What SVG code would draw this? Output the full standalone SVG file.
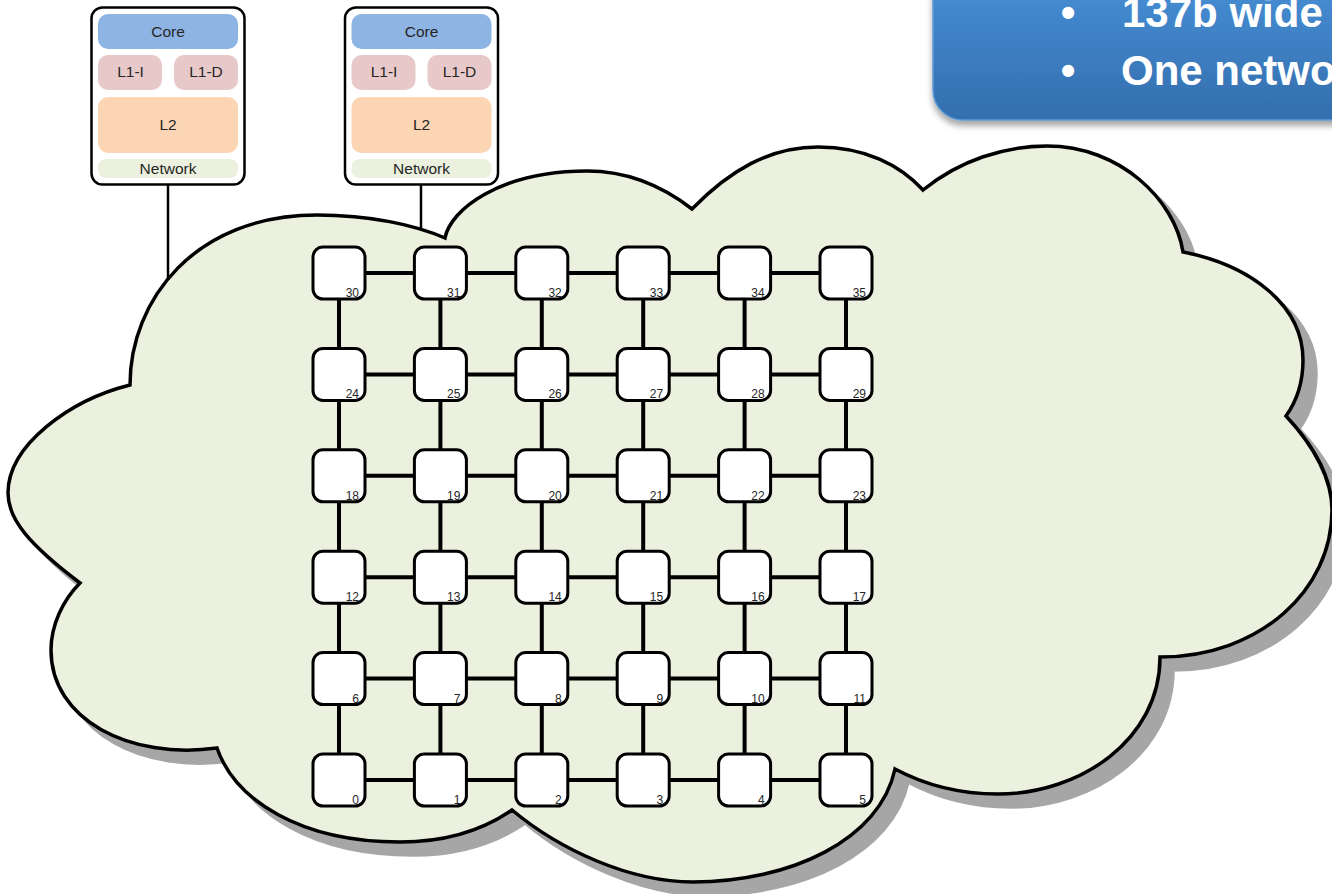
<svg xmlns="http://www.w3.org/2000/svg" xmlns:xlink="http://www.w3.org/1999/xlink" width="1332" height="894" viewBox="0 0 1332 894">
<style>
.lbl{font-family:"Liberation Sans",Arial,sans-serif;font-size:15.5px;fill:#262626;text-anchor:middle}
.num{font-family:"Liberation Sans",Arial,sans-serif;font-size:12px;fill:#262626;text-anchor:end}
.node rect{fill:#ffffff;stroke:#000;stroke-width:3}
.link{stroke:#000;stroke-width:4;fill:none}
.wire{stroke:#000;stroke-width:2.5;fill:none}
.outer{fill:#fff;stroke:#000;stroke-width:2.5}
.callout{font-family:"Liberation Sans",Arial,sans-serif;font-weight:bold;font-size:42px;fill:#fff}
</style>
<defs>
<linearGradient id="blue" x1="0" y1="0" x2="0" y2="1">
<stop offset="0" stop-color="#4a93db"/>
<stop offset="1" stop-color="#336ead"/>
</linearGradient>
<filter id="sh" x="-10%" y="-10%" width="130%" height="140%">
<feDropShadow dx="0" dy="5" stdDeviation="3" flood-color="#000" flood-opacity="0.35"/>
</filter>
<path id="cloudPath" d="M 130,385 C 130,300 195,215 317,215 C 370,215 415,225 445,238 C 450,210 500,171 587,171 C 630,171 665,188 692,209 C 730,170 770,147 818,147 C 865,147 900,165 923,190 C 960,160 1005,146 1047,146 C 1120,146 1175,200 1183,252 C 1250,265 1303,305 1303,360 C 1303,385 1296,402 1286,416 C 1315,447 1332,480 1332,510 C 1332,590 1260,657 1160,657 C 1160,740 1080,794 998,794 C 960,794 925,785 895,769 C 880,840 790,882 693,882 C 630,882 560,850 512,810 C 480,832 440,842 400,842 C 300,842 235,800 217,748 C 130,760 51,720 51,650 C 51,625 63,600 80,583 C 30,545 8,520 8,493 C 8,445 70,400 130,385 Z"/>
</defs>

<!-- callout -->
<g id="callout">
<rect x="933" y="-40" width="460" height="160" rx="30" fill="url(#blue)" stroke="#5c9ad8" stroke-width="1.5" filter="url(#sh)"/>
<text class="callout" x="1068" y="27" text-anchor="middle">•</text>
<text class="callout" x="1122" y="27">137b wide</text>
<text class="callout" x="1068" y="85" text-anchor="middle">•</text>
<text class="callout" x="1121" y="85">One netwo</text>
</g>

<!-- wires from tiles to cloud -->
<g id="wires">
<line class="wire" x1="168" y1="185" x2="168" y2="279"/>
<line class="wire" x1="421" y1="185" x2="421" y2="232"/>
</g>

<!-- cloud -->
<g id="cloud">
<use xlink:href="#cloudPath" transform="translate(13,13)" fill="#a6a6a6" stroke="#a6a6a6" stroke-width="3.5"/>
<use xlink:href="#cloudPath" fill="#ebf1de" stroke="#000" stroke-width="3.5" stroke-linejoin="miter"/>
</g>

<!-- tile 1 -->
<g id="tile1">
<rect class="outer" x="91.5" y="7.5" width="153" height="177" rx="11"/>
<rect x="98" y="14" width="140" height="35" rx="10" fill="#8eb4e3"/>
<text class="lbl" x="168" y="37">Core</text>
<rect x="98" y="55" width="64" height="35" rx="10" fill="#e8c9c9"/>
<text class="lbl" x="130.5" y="77">L1-I</text>
<rect x="174" y="55" width="64" height="35" rx="10" fill="#e8c9c9"/>
<text class="lbl" x="206" y="77">L1-D</text>
<rect x="98" y="97" width="140" height="56" rx="10" fill="#fcd5b5"/>
<text class="lbl" x="168" y="130">L2</text>
<rect x="98" y="159" width="140" height="19" rx="8" fill="#ebf1de"/>
<text class="lbl" x="168" y="174">Network</text>
</g>

<!-- tile 2 -->
<g id="tile2" transform="translate(253.5,0)">
<rect class="outer" x="91.5" y="7.5" width="153" height="177" rx="11"/>
<rect x="98" y="14" width="140" height="35" rx="10" fill="#8eb4e3"/>
<text class="lbl" x="168" y="37">Core</text>
<rect x="98" y="55" width="64" height="35" rx="10" fill="#e8c9c9"/>
<text class="lbl" x="130.5" y="77">L1-I</text>
<rect x="174" y="55" width="64" height="35" rx="10" fill="#e8c9c9"/>
<text class="lbl" x="206" y="77">L1-D</text>
<rect x="98" y="97" width="140" height="56" rx="10" fill="#fcd5b5"/>
<text class="lbl" x="168" y="130">L2</text>
<rect x="98" y="159" width="140" height="19" rx="8" fill="#ebf1de"/>
<text class="lbl" x="168" y="174">Network</text>
</g>

<!-- mesh connectors -->
<g id="connectors">
<path class="link" d="M365,273H414.4M466.4,273H515.8M567.8,273H617.2M669.2,273H718.6M770.6,273H820
M365,374.4H414.4M466.4,374.4H515.8M567.8,374.4H617.2M669.2,374.4H718.6M770.6,374.4H820
M365,475.8H414.4M466.4,475.8H515.8M567.8,475.8H617.2M669.2,475.8H718.6M770.6,475.8H820
M365,577.2H414.4M466.4,577.2H515.8M567.8,577.2H617.2M669.2,577.2H718.6M770.6,577.2H820
M365,678.6H414.4M466.4,678.6H515.8M567.8,678.6H617.2M669.2,678.6H718.6M770.6,678.6H820
M365,780H414.4M466.4,780H515.8M567.8,780H617.2M669.2,780H718.6M770.6,780H820
M339,299V348.4M339,400.4V449.8M339,501.8V551.2M339,603.2V652.6M339,704.6V754
M440.4,299V348.4M440.4,400.4V449.8M440.4,501.8V551.2M440.4,603.2V652.6M440.4,704.6V754
M541.8,299V348.4M541.8,400.4V449.8M541.8,501.8V551.2M541.8,603.2V652.6M541.8,704.6V754
M643.2,299V348.4M643.2,400.4V449.8M643.2,501.8V551.2M643.2,603.2V652.6M643.2,704.6V754
M744.6,299V348.4M744.6,400.4V449.8M744.6,501.8V551.2M744.6,603.2V652.6M744.6,704.6V754
M846,299V348.4M846,400.4V449.8M846,501.8V551.2M846,603.2V652.6M846,704.6V754"/>
</g>

<!-- mesh nodes -->
<g id="n0" class="node"><rect x="313" y="754" width="52" height="52" rx="10"/><text class="num" x="359" y="804">0</text></g>
<g id="n1" class="node"><rect x="414.4" y="754" width="52" height="52" rx="10"/><text class="num" x="460.4" y="804">1</text></g>
<g id="n2" class="node"><rect x="515.8" y="754" width="52" height="52" rx="10"/><text class="num" x="561.8" y="804">2</text></g>
<g id="n3" class="node"><rect x="617.2" y="754" width="52" height="52" rx="10"/><text class="num" x="663.2" y="804">3</text></g>
<g id="n4" class="node"><rect x="718.6" y="754" width="52" height="52" rx="10"/><text class="num" x="764.6" y="804">4</text></g>
<g id="n5" class="node"><rect x="820" y="754" width="52" height="52" rx="10"/><text class="num" x="866" y="804">5</text></g>

<g id="n6" class="node"><rect x="313" y="652.6" width="52" height="52" rx="10"/><text class="num" x="359" y="702.6">6</text></g>
<g id="n7" class="node"><rect x="414.4" y="652.6" width="52" height="52" rx="10"/><text class="num" x="460.4" y="702.6">7</text></g>
<g id="n8" class="node"><rect x="515.8" y="652.6" width="52" height="52" rx="10"/><text class="num" x="561.8" y="702.6">8</text></g>
<g id="n9" class="node"><rect x="617.2" y="652.6" width="52" height="52" rx="10"/><text class="num" x="663.2" y="702.6">9</text></g>
<g id="n10" class="node"><rect x="718.6" y="652.6" width="52" height="52" rx="10"/><text class="num" x="764.6" y="702.6">10</text></g>
<g id="n11" class="node"><rect x="820" y="652.6" width="52" height="52" rx="10"/><text class="num" x="866" y="702.6">11</text></g>

<g id="n12" class="node"><rect x="313" y="551.2" width="52" height="52" rx="10"/><text class="num" x="359" y="601.2">12</text></g>
<g id="n13" class="node"><rect x="414.4" y="551.2" width="52" height="52" rx="10"/><text class="num" x="460.4" y="601.2">13</text></g>
<g id="n14" class="node"><rect x="515.8" y="551.2" width="52" height="52" rx="10"/><text class="num" x="561.8" y="601.2">14</text></g>
<g id="n15" class="node"><rect x="617.2" y="551.2" width="52" height="52" rx="10"/><text class="num" x="663.2" y="601.2">15</text></g>
<g id="n16" class="node"><rect x="718.6" y="551.2" width="52" height="52" rx="10"/><text class="num" x="764.6" y="601.2">16</text></g>
<g id="n17" class="node"><rect x="820" y="551.2" width="52" height="52" rx="10"/><text class="num" x="866" y="601.2">17</text></g>

<g id="n18" class="node"><rect x="313" y="449.8" width="52" height="52" rx="10"/><text class="num" x="359" y="499.8">18</text></g>
<g id="n19" class="node"><rect x="414.4" y="449.8" width="52" height="52" rx="10"/><text class="num" x="460.4" y="499.8">19</text></g>
<g id="n20" class="node"><rect x="515.8" y="449.8" width="52" height="52" rx="10"/><text class="num" x="561.8" y="499.8">20</text></g>
<g id="n21" class="node"><rect x="617.2" y="449.8" width="52" height="52" rx="10"/><text class="num" x="663.2" y="499.8">21</text></g>
<g id="n22" class="node"><rect x="718.6" y="449.8" width="52" height="52" rx="10"/><text class="num" x="764.6" y="499.8">22</text></g>
<g id="n23" class="node"><rect x="820" y="449.8" width="52" height="52" rx="10"/><text class="num" x="866" y="499.8">23</text></g>

<g id="n24" class="node"><rect x="313" y="348.4" width="52" height="52" rx="10"/><text class="num" x="359" y="398.4">24</text></g>
<g id="n25" class="node"><rect x="414.4" y="348.4" width="52" height="52" rx="10"/><text class="num" x="460.4" y="398.4">25</text></g>
<g id="n26" class="node"><rect x="515.8" y="348.4" width="52" height="52" rx="10"/><text class="num" x="561.8" y="398.4">26</text></g>
<g id="n27" class="node"><rect x="617.2" y="348.4" width="52" height="52" rx="10"/><text class="num" x="663.2" y="398.4">27</text></g>
<g id="n28" class="node"><rect x="718.6" y="348.4" width="52" height="52" rx="10"/><text class="num" x="764.6" y="398.4">28</text></g>
<g id="n29" class="node"><rect x="820" y="348.4" width="52" height="52" rx="10"/><text class="num" x="866" y="398.4">29</text></g>

<g id="n30" class="node"><rect x="313" y="247" width="52" height="52" rx="10"/><text class="num" x="359" y="297">30</text></g>
<g id="n31" class="node"><rect x="414.4" y="247" width="52" height="52" rx="10"/><text class="num" x="460.4" y="297">31</text></g>
<g id="n32" class="node"><rect x="515.8" y="247" width="52" height="52" rx="10"/><text class="num" x="561.8" y="297">32</text></g>
<g id="n33" class="node"><rect x="617.2" y="247" width="52" height="52" rx="10"/><text class="num" x="663.2" y="297">33</text></g>
<g id="n34" class="node"><rect x="718.6" y="247" width="52" height="52" rx="10"/><text class="num" x="764.6" y="297">34</text></g>
<g id="n35" class="node"><rect x="820" y="247" width="52" height="52" rx="10"/><text class="num" x="866" y="297">35</text></g>
</svg>
